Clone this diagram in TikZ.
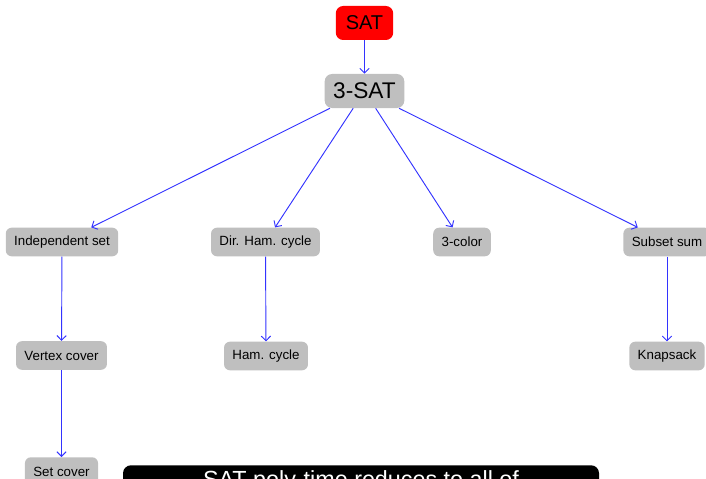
\documentclass[tikz,border=0pt]{standalone}
\usepackage{fontspec}
\setmainfont{Liberation Sans}
\usetikzlibrary{arrows.meta}
\tikzset{
  prob/.style={fill=black!25, rounded corners=4.5pt, inner xsep=6.3pt,
    minimum height=21.5pt, font=\fontsize{10}{12}\selectfont},
  bigprob/.style={fill=black!25, rounded corners=5.5pt, inner xsep=6.4pt,
    minimum height=25.5pt, font=\fontsize{17}{20}\selectfont},
  satbox/.style={bigprob, fill=red, inner xsep=7.5pt, font=\fontsize{15}{18}\selectfont},
  reduce/.style={-{Straight Barb[length=3.5pt, width=7pt]}, blue!80, line width=0.7pt}
}
\begin{document}
\begin{tikzpicture}[x=0.75pt, y=-0.75pt]
  \useasboundingbox (0,0) rectangle (706,478);
  \clip (0,0) rectangle (706,478);

  % top of the tree
  \node[satbox] (sat) at (364.5,23) {SAT};
  \node[bigprob] (tsat) at (364.5,91) {3-SAT};

  % first row
  \node[prob] (indset) at (62,242) {Independent set};
  \node[prob] (dirham) at (265.5,242) {Dir. Ham. cycle};
  \node[prob] (tcolor) at (462,242) {3-color};
  \node[prob] (subsum) at (667,242) {Subset sum};

  % second and third rows
  \node[prob] (vcover) at (61.5,355.5) {Vertex cover};
  \node[prob] (ham) at (266,356) {Ham. cycle};
  \node[prob] (knap) at (667,356) {Knapsack};
  \node[prob, anchor=north] (setcover) at (61.5,457) {Set cover};

  % note box (cut off at the bottom)
  \node[fill=black, text=white, rounded corners=6pt, anchor=north, inner sep=4pt,
    minimum width=357pt, font=\fontsize{17.5}{21}\selectfont] (note) at (361,465)
    {SAT poly-time reduces to all of};

  % reductions
  \draw[reduce] (sat) -- (tsat);
  \foreach \p in {indset, dirham, tcolor, subsum}
    \draw[reduce] (tsat) -- (\p);
  \draw[reduce] (indset) -- (vcover);
  \draw[reduce] (vcover) -- (setcover);
  \draw[reduce] (dirham) -- (ham);
  \draw[reduce] (subsum) -- (knap);
\end{tikzpicture}
\end{document}
